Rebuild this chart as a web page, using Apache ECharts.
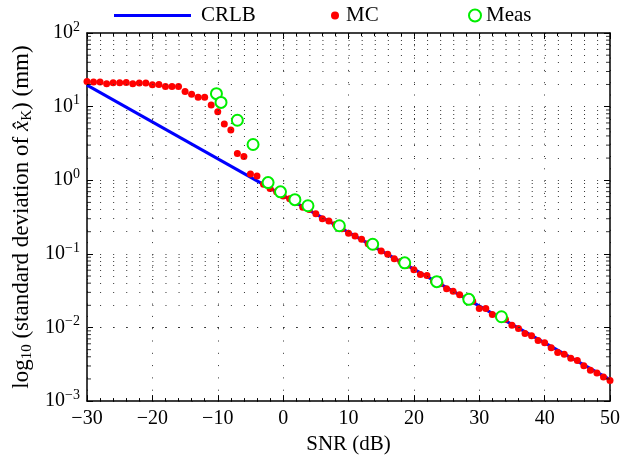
<!DOCTYPE html>
<html><head><meta charset="utf-8">
<script src="https://cdn.jsdelivr.net/npm/echarts@6/dist/echarts.min.js"></script>
<style>html,body{margin:0;padding:0;background:#fff}#c{width:631px;height:460px}</style>
</head><body><div id="c"></div>
<script>
// ---- data ----
const snrMC = [-30,-29,-28,-27,-26,-25,-24,-23,-22,-21,-20,-19,-18,-17,-16,-15,-14,-13,-12,-11,-10,-9,-8,-7,-6,-5,-4,-3,-2,-1,0,1,2,3,4,5,6,7,8,9,10,11,12,13,14,15,16,17,18,19,20,21,22,23,24,25,26,27,28,29,30,31,32,33,34,35,36,37,38,39,40,41,42,43,44,45,46,47,48,49,50];
const mcStd = [22.0,21.6,21.6,20.5,21.1,21.1,21.3,20.5,20.9,20.9,19.8,20.0,18.8,18.8,18.8,16.1,14.7,13.4,13.4,10.5,8.5,5.8,4.8,2.3,2.1,1.22,1.14,0.88,0.77,0.70,0.61,0.56,0.50,0.43,0.40,0.35,0.30,0.28,0.25,0.22,0.19,0.175,0.158,0.137,0.125,0.109,0.099,0.086,0.079,0.070,0.061,0.0525,0.0509,0.0423,0.0394,0.0337,0.0310,0.0279,0.0247,0.0227,0.0181,0.0181,0.0150,0.0140,0.0129,0.0107,0.00969,0.0083,0.00773,0.00667,0.00621,0.00532,0.00459,0.00432,0.00381,0.00355,0.00303,0.00262,0.00241,0.00213,0.00191];
const snrMeas = [-10.2,-9.5,-7.0,-4.6,-2.3,-0.4,1.8,3.8,8.6,13.7,18.6,23.5,28.4,33.4];
const measStd = [15.0,11.4,6.53,3.06,0.93,0.695,0.545,0.450,0.241,0.135,0.0755,0.0419,0.0241,0.0140];
const snrCRLB = [-30, 50];
const crlbStd = [19.6, 0.00196];
const yDecades = [-3,-2,-1,0,1,2];
const minorMult = [2,3,4,5,6,7,8,9];

// ---- helpers ----
const zip = (a,b) => a.map((v,i)=>[v,b[i]]);
const minorVals = [];
yDecades.slice(0,-1).forEach(k => minorMult.forEach(m => minorVals.push(m*Math.pow(10,k))));
const FONT = 'Liberation Serif';
const dotStyle = {color:'#333', width:1, type:[1,12.08]};

const chart = echarts.init(document.getElementById('c'), null, {renderer:'canvas'});
const fmtX = v => (v<0 ? '\u2212'+Math.abs(v) : ''+v);
const fmtY = v => { const e = Math.round(Math.log10(v)); return '{b|10}{s|' + (e<0?'\u2212'+Math.abs(e):e) + '}'; };
const legText = {fontFamily:FONT,fontSize:21,color:'#000'};

chart.setOption({
  animation:false,
  backgroundColor:'#fff',
  grid:{left:87, right:21, top:33, bottom:57},
  legend:[
    {data:[{name:'CRLB', icon:'rect'}], left:109, top:0, itemWidth:77, itemHeight:3, itemGap:0, textStyle:Object.assign({padding:[0,0,0,5]},legText)},
    {data:['MC'], left:326, top:0, itemWidth:8, itemHeight:8, textStyle:Object.assign({padding:[0,0,0,2]},legText)},
    {data:['Meas'], left:463, top:0, itemWidth:12, itemHeight:12, textStyle:Object.assign({padding:[0,0,0,0]},legText)}
  ],
  xAxis:[{
    type:'value', min:-30, max:50, interval:10,
    name:'SNR (dB)', nameLocation:'middle', nameGap:31,
    nameTextStyle:{fontFamily:FONT, fontSize:21, color:'#000'},
    axisLine:{show:true, onZero:false, lineStyle:{color:'#000', width:1.5}},
    axisTick:{show:true, inside:true, length:6, lineStyle:{color:'#000'}},
    minorTick:{show:true, splitNumber:5, length:3, lineStyle:{color:'#000'}},
    axisLabel:{formatter:fmtX, fontFamily:FONT, fontSize:20, color:'#000', margin:8},
    splitLine:{show:true, lineStyle:{color:'#333', width:1, type:[1,11.3]}}
  },{
    type:'value', position:'top', min:-30, max:50, interval:10,
    axisLine:{show:true, onZero:false, lineStyle:{color:'#000', width:1.5}},
    axisTick:{show:true, inside:true, length:6, lineStyle:{color:'#000'}},
    minorTick:{show:true, splitNumber:5, length:3, lineStyle:{color:'#000'}},
    axisLabel:{show:false}, splitLine:{show:false}
  }],
  yAxis:[{
    type:'log', logBase:10, min:0.001, max:100,
    name:'log{sub|10} (standard deviation of {i|x\u0302}{sub|K}) (mm)',
    nameLocation:'middle', nameGap:40, nameRotate:90,
    nameTextStyle:{fontFamily:FONT, fontSize:23, color:'#000',
      rich:{sub:{fontFamily:FONT,fontSize:15,color:'#000',padding:[9,0,0,0]}, i:{fontFamily:FONT,fontSize:23,fontStyle:'italic',color:'#000'}}},
    axisLine:{show:true, onZero:false, lineStyle:{color:'#000', width:1.5}},
    axisTick:{show:true, inside:true, length:6, lineStyle:{color:'#000'}},
    axisLabel:{formatter:fmtY, margin:7,
      rich:{b:{fontFamily:FONT,fontSize:20,color:'#000'}, s:{fontFamily:FONT,fontSize:14,color:'#000',padding:[0,0,12,0]}}},
    splitLine:{show:true, lineStyle:dotStyle}
  },{
    type:'log', logBase:10, min:0.001, max:100, position:'right',
    axisLine:{show:true, onZero:false, lineStyle:{color:'#000', width:1.5}},
    axisTick:{show:true, inside:true, length:6, lineStyle:{color:'#000'}},
    axisLabel:{show:false}, splitLine:{show:false}
  }],
  series:[
    {name:'CRLB', type:'line', data:zip(snrCRLB, crlbStd), symbol:'none', z:3,
     lineStyle:{color:'#0000ff', width:3}, itemStyle:{color:'#0000ff'},
     markLine:{silent:true, symbol:'none', label:{show:false}, lineStyle:dotStyle,
       data: minorVals.map(v=>({yAxis:v}))}},
    {name:'MC', type:'scatter', data:zip(snrMC, mcStd), symbol:'circle', symbolSize:7, z:4,
     itemStyle:{color:'#ff0000', opacity:1}},
    {name:'Meas', type:'scatter', data:zip(snrMeas, measStd), symbol:'emptyCircle', symbolSize:11, z:5,
     itemStyle:{color:'#00ee00', borderColor:'#00ee00', borderWidth:1.3, opacity:1}},
    {name:'minorL', type:'scatter', data:minorVals.map(v=>[-30,v]), symbol:'rect', symbolSize:[4,1], symbolOffset:[2,0],
     itemStyle:{color:'#000'}, silent:true, z:6},
    {name:'minorR', type:'scatter', data:minorVals.map(v=>[50,v]), symbol:'rect', symbolSize:[4,1], symbolOffset:[-2,0],
     itemStyle:{color:'#000'}, silent:true, z:6}
  ]
});
</script></body></html>
